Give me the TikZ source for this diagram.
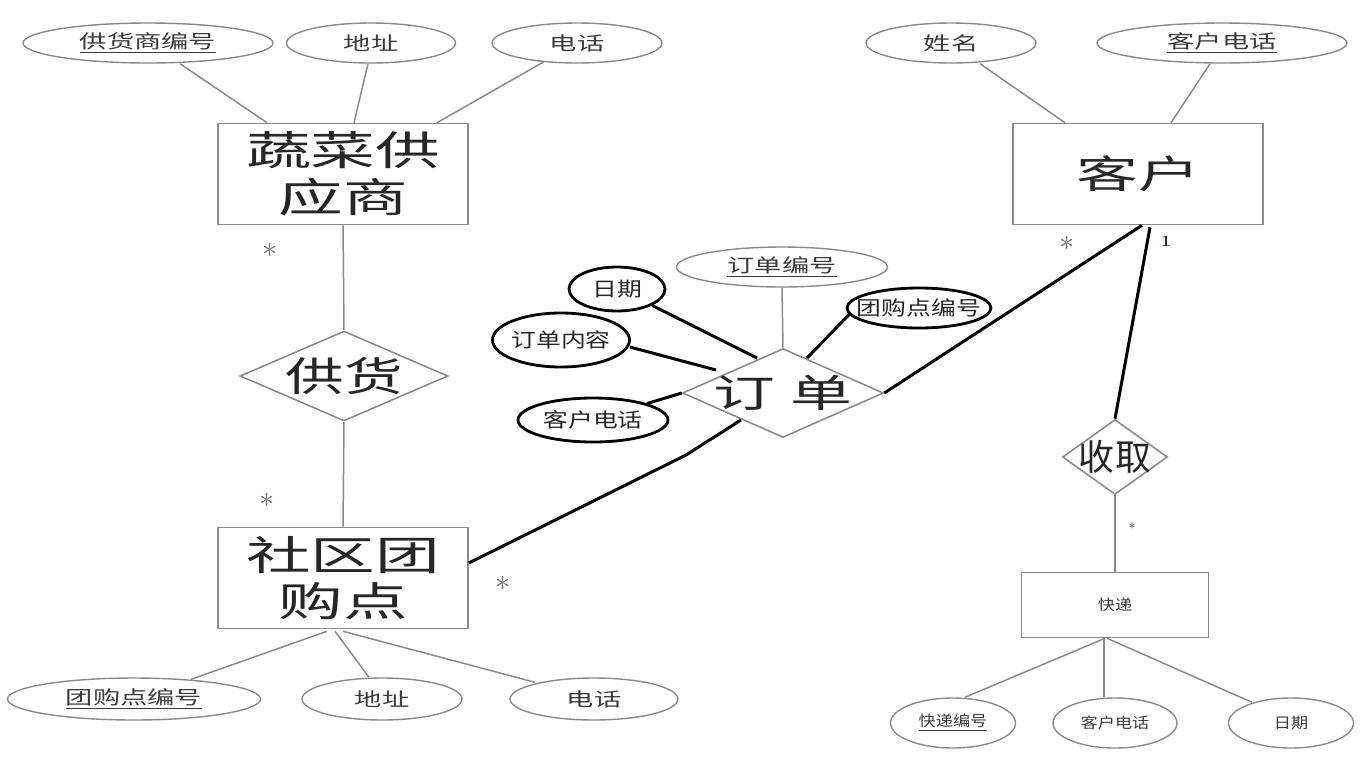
\documentclass[tikz,border=0pt]{standalone}
\usepackage{fontspec}
\usetikzlibrary{shapes.geometric,calc}
\newfontfamily\fbig[FakeStretch=1.6]{Noto Sans CJK SC}
\newfontfamily\frel[FakeStretch=1.45]{Noto Sans CJK SC}
\newfontfamily\fattr[FakeStretch=1.45]{Noto Sans CJK SC}
\newfontfamily\fblk[FakeStretch=1.25]{Noto Sans CJK SC}
\newfontfamily\fsmall[FakeStretch=1.15]{Noto Sans CJK SC}
\newfontfamily\fplain{Noto Sans CJK SC}
\definecolor{lgray}{HTML}{8A8A8A}
\definecolor{tgray}{HTML}{3C3C3C}
\definecolor{sgray}{HTML}{707070}
\begin{document}
\begin{tikzpicture}[x=0.02cm,y=-0.02cm,
  attr/.style={ellipse,draw=lgray,line width=0.8pt,inner sep=0pt,minimum height=0.8cm,
    label={[text=tgray,font=\fattr\fontsize{10.7}{12}\selectfont]center:#1}},
  battr/.style={ellipse,draw=black,line width=1.6pt,inner sep=0pt,
    label={[text=black!85,font=\fblk\fontsize{11.3}{13}\selectfont]center:#1}},
  sattr/.style={ellipse,draw=lgray,line width=0.8pt,inner sep=0pt,minimum width=2.5cm,minimum height=1.0cm,
    label={[text=tgray,font=\fsmall\fontsize{8.5}{10}\selectfont]center:#1}},
  ent/.style={rectangle,draw=lgray,line width=0.9pt,minimum width=5cm,minimum height=2.02cm,
    inner sep=0pt,align=center,text=black!85,font=\fbig\fontsize{23}{26.6}\selectfont},
  rel/.style={diamond,draw=lgray,line width=0.9pt,inner sep=0pt,
    label={[text=black!85,font=\frel\fontsize{23}{26}\selectfont]center:#1}},
  gl/.style={draw=lgray,line width=0.85pt},
  bl/.style={draw=black,line width=1.7pt},
  star/.style={text=sgray,inner sep=0pt,font=\fontsize{16}{16}\selectfont}
]
\fill[white] (0,0) rectangle (1360,775);
\useasboundingbox (0,0) rectangle (1360,775);

% supplier side
\node[attr=\underline{供货商编号},minimum width=5cm] (a1) at (148,43) {};
\node[attr=地址,minimum width=3.38cm] (a2) at (371,43) {};
\node[attr=电话,minimum width=3.4cm] (a3) at (577,43) {};
\node[ent] (e1) at (343,174) {蔬菜供\\应商};
\node[rel=供货,minimum width=4.16cm,minimum height=1.8cm] (r1) at (344,376) {};
\node[ent] (e2) at (343,578) {社区团\\购点};
\node[attr=\underline{团购点编号},minimum width=5.06cm,minimum height=0.84cm] (b1) at (134,699) {};
\node[attr=地址,minimum width=3.2cm,minimum height=0.84cm] (b2) at (382,699) {};
\node[attr=电话,minimum width=3.36cm,minimum height=0.84cm] (b3) at (594,699) {};

% customer side
\node[attr=姓名,minimum width=3.4cm] (c1) at (951,43) {};
\node[attr=\underline{客户电话},minimum width=5cm] (c2) at (1222,43) {};
\node[ent,font=\fbig\fontsize{22}{26}\selectfont] (e3) at (1138,174) {客户};

% order
\node[attr=\underline{订单编号},minimum width=4.22cm] (o1) at (782,267) {};
\node[battr=日期,minimum width=1.92cm,minimum height=0.88cm] (o2) at (617,289) {};
\node[battr=订单内容,minimum width=2.74cm,minimum height=1.08cm] (o3) at (561,340) {};
\node[battr=客户电话,minimum width=3.0cm,minimum height=0.88cm] (o4) at (593,420) {};
\node[battr=团购点编号,minimum width=2.88cm,minimum height=0.8cm] (o5) at (919,308) {};
\node[diamond,draw=lgray,line width=0.9pt,inner sep=0pt,minimum width=4.02cm,minimum height=1.78cm,
  label={[text=black!85,font=\fbig\fontsize{22}{26}\selectfont]center:订\hspace{9pt}单}] (r2) at (783,393) {};

% delivery
\node[diamond,draw=lgray,line width=0.9pt,inner sep=0pt,minimum width=2.1cm,minimum height=1.5cm,
  label={[text=black!85,font=\fplain\fontsize{20.5}{24}\selectfont]center:收取}] (r3) at (1115,457) {};
\node[rectangle,draw=lgray,line width=0.9pt,minimum width=3.74cm,minimum height=1.3cm,inner sep=0pt,
  text=tgray,font=\fsmall\fontsize{8.5}{10}\selectfont] (e4) at (1115,605) {快递};
\node[sattr=\underline{快递编号}] (k1) at (953,723) {};
\node[sattr=客户电话,minimum width=2.48cm] (k2) at (1115,723) {};
\node[sattr=日期] (k3) at (1291,723) {};

% attribute connectors (gray)
\draw[gl] ($(a1.south)+(32,0)$) -- ($(e1.north)+(-76,0)$);
\draw[gl] ($(a2.south)+(-3,0)$) -- ($(e1.north)+(11,0)$);
\draw[gl] ($(a3.south)+(-33,-2)$) -- ($(e1.north)+(94,0)$);
\draw[gl] (e1.south) -- (r1.north);
\draw[gl] (r1.south) -- (e2.north);
\draw[gl] ($(e2.south)+(-16,2)$) -- ($(b1.north)+(57,2)$);
\draw[gl] ($(e2.south)+(-8,2)$) -- ($(b2.north)+(-13,0)$);
\draw[gl] ($(e2.south)+(0,2)$) -- ($(b3.north)+(-59,5)$);
\draw[gl] ($(c1.south)+(29,0)$) -- ($(e3.north)+(-73,0)$);
\draw[gl] ($(c2.south)+(-12,0)$) -- ($(e3.north)+(33,0)$);
\draw[gl] (o1.south) -- (r2.north);
\draw[gl] (r3.south) -- (e4.north);
\draw[gl] ($(e4.south)+(-10,0)$) -- ($(k1.north)+(12,0)$);
\draw[gl] ($(e4.south)+(-11,0)$) -- ($(k2.north)+(-11,0)$);
\draw[gl] ($(e4.south)+(-8,0)$) -- ($(k3.north)+(-39,5)$);

% order attribute connectors (black)
\draw[bl] (o2.-25) -- ($(r2.center)+(-26,-35)$);
\draw[bl] ($(o3.east)+(-1,7)$) -- ($(r2.center)+(-67,-23)$);
\draw[bl] (o4) -- (r2.west);
\draw[bl] ($(o5.west)+(5,5)$) -- ($(r2.center)+(24,-35)$);

% relationship connectors (black)
\draw[bl] ($(e2.east)+(0,-15)$) -- ($(r2.center)+(-97,62)$) -- ($(r2.center)+(-42,27)$);
\draw[bl] (r2.east) -- ($(e3.south)+(4,0)$);
\draw[bl] ($(e3.south)+(12,2)$) -- (r3.north);

% multiplicities
\node[star] (s1) at (270,250) {$\ast$};
\node[star] (s2) at (267,500) {$\ast$};
\node[star] (s3) at (503,583) {$\ast$};
\node[star] (s4) at (1067,243) {$\ast$};
\node[inner sep=0pt,text={rgb,255:red,30;green,30;blue,70},font=\fontsize{9}{9}\selectfont\bfseries] (m1) at (1166,241) {1};
\node[inner sep=0pt,text=tgray,font=\fontsize{8}{8}\selectfont] (s5) at (1132,526) {$\ast$};
\end{tikzpicture}
\end{document}
